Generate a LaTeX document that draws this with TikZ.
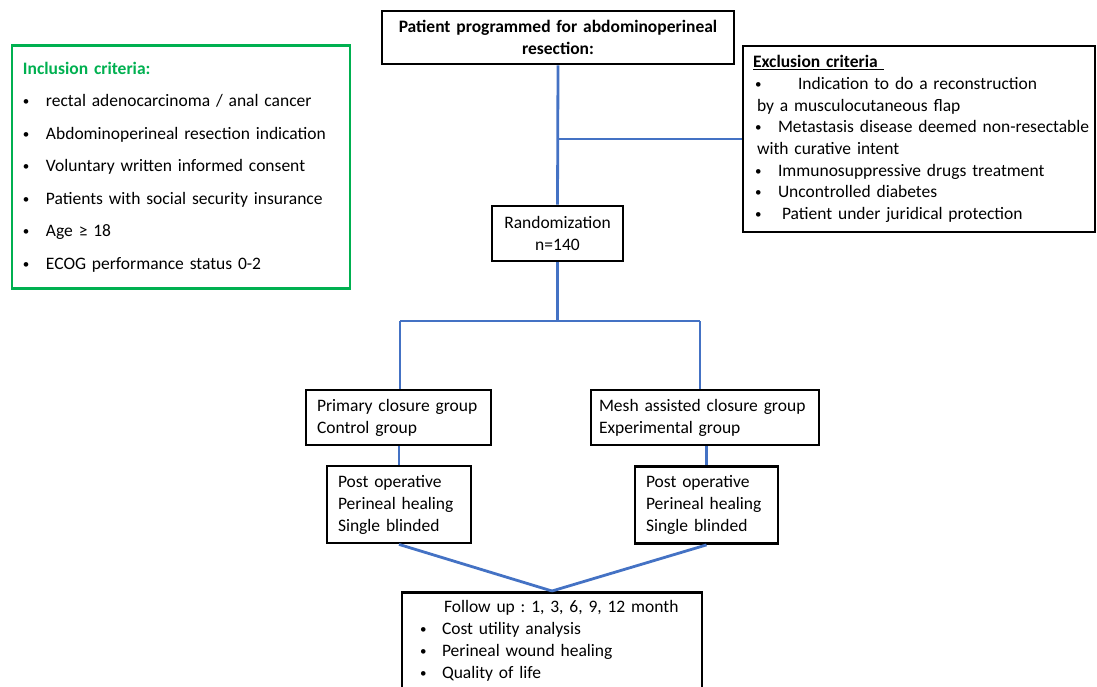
\documentclass[tikz,border=0pt]{standalone}
\usepackage{fontspec}
\setmainfont{Carlito}
\usepackage{xcolor}
\usetikzlibrary{positioning}
\definecolor{flowblue}{RGB}{68,114,196}
\definecolor{critgreen}{RGB}{0,176,80}
\newcommand{\bul}[2]{\makebox[#1][l]{\raisebox{1pt}{\fontsize{13}{13}\selectfont\textbullet}}#2}
\frenchspacing

\begin{document}
\begin{tikzpicture}[x=1pt, y=-1pt,
  box/.style={draw, line width=2.8pt, inner xsep=11pt, inner ysep=0pt, align=left,
    font=\fontsize{17.5}{22}\selectfont},
  link/.style={draw=flowblue, line width=2.8pt},
]
\useasboundingbox (0,0) rectangle (1097,686);

% Boxes - top row
\node[box, minimum width=352pt, minimum height=53pt, text width=336pt, inner xsep=8pt,
  align=center, font=\fontsize{17.5}{22}\selectfont\bfseries] (patient) at (558,37.5)
  {Patient programmed for abdominoperineal\\resection:};

\node[box, draw=critgreen, text=black, minimum width=338pt, minimum height=243pt,
  text width=316pt, font=\fontsize{17.5}{32.5}\selectfont] (incl) at (181,167)
  {\textcolor{critgreen}{\textbf{Inclusion criteria:}}\\
   \bul{23pt}{rectal adenocarcinoma / anal cancer}\\
   \bul{23pt}{Abdominoperineal resection indication}\\
   \bul{23pt}{Voluntary written informed consent}\\
   \bul{23pt}{Patients with social security insurance}\\
   \bul{23pt}{Age ≥ 18}\\
   \bul{23pt}{ECOG performance status 0-2}};

\node[box, minimum width=352pt, minimum height=186pt, text width=342pt,
  inner xsep=5pt, font=\fontsize{17.5}{21.7}\selectfont] (excl) at (919,139)
  {\hspace*{5pt}\underline{\textbf{Exclusion criteria}\ }\\
   \hspace*{7pt}\bul{43pt}{Indication to do a reconstruction}\\
   \hspace*{9pt}by a musculocutaneous flap\\
   \hspace*{7pt}\bul{23pt}{Metastasis disease deemed non-resectable}\\
   \hspace*{9pt}with curative intent\\
   \hspace*{7pt}\bul{23pt}{Immunosuppressive drugs treatment}\\
   \hspace*{7pt}\bul{23pt}{Uncontrolled diabetes}\\
   \hspace*{7pt}\bul{27pt}{Patient under juridical protection}};

% Boxes - middle
\node[box, minimum width=131pt, minimum height=55pt, text width=119pt, align=center,
  inner xsep=6pt] (rand) at (557.5,233.5) {Randomization\\n=140};

\node[box, minimum width=185pt, minimum height=55pt, text width=163pt] (primary)
  at (398.5,417.5) {Primary closure group\\Control group};
\node[box, minimum width=228pt, minimum height=55pt, text width=212pt, inner xsep=8pt] (mesh)
  at (705,417.5) {Mesh assisted closure group\\Experimental group};

\node[box, minimum width=144pt, minimum height=77pt, text width=122pt] (postL)
  at (399,504.5) {Post operative\\Perineal healing\\Single blinded};
\node[box, minimum width=143pt, minimum height=77pt, text width=121pt] (postR)
  at (706.5,505) {Post operative\\Perineal healing\\Single blinded};

% Box - bottom (runs off the page)
\node[box, anchor=north, minimum width=300pt, text width=290pt, inner xsep=0pt,
  inner ysep=8pt] (follow) at (552,591)
  {\hspace*{37pt}Follow up : 1, 3, 6, 9, 12 month\\
   \hspace*{13pt}\bul{22pt}{Cost utility analysis}\\
   \hspace*{13pt}\bul{22pt}{Perineal wound healing}\\
   \hspace*{13pt}\bul{22pt}{Quality of life}};

% Junction points
\coordinate (split) at (558,139);
\coordinate (fork)  at (557.5,321);
\coordinate (forkL) at (400,321);
\coordinate (forkR) at (700,321);

% Connectors
\draw[link] (patient.south) -- (rand.north);
\draw[link] (split) -- (excl.west |- split);
\draw[link] (rand.south) -- (fork);
\draw[link] (forkL) -- (forkR);
\draw[link] (forkL) -- (forkL |- primary.north);
\draw[link] (forkR) -- (forkR |- mesh.north);
\draw[link] (primary.south -| postL.north) -- (postL.north);
\draw[link] (mesh.south -| postR.north) -- (postR.north);
\draw[link] (postL.south) -- (follow.north);
\draw[link] (postR.south) -- (follow.north);

\end{tikzpicture}
\end{document}
